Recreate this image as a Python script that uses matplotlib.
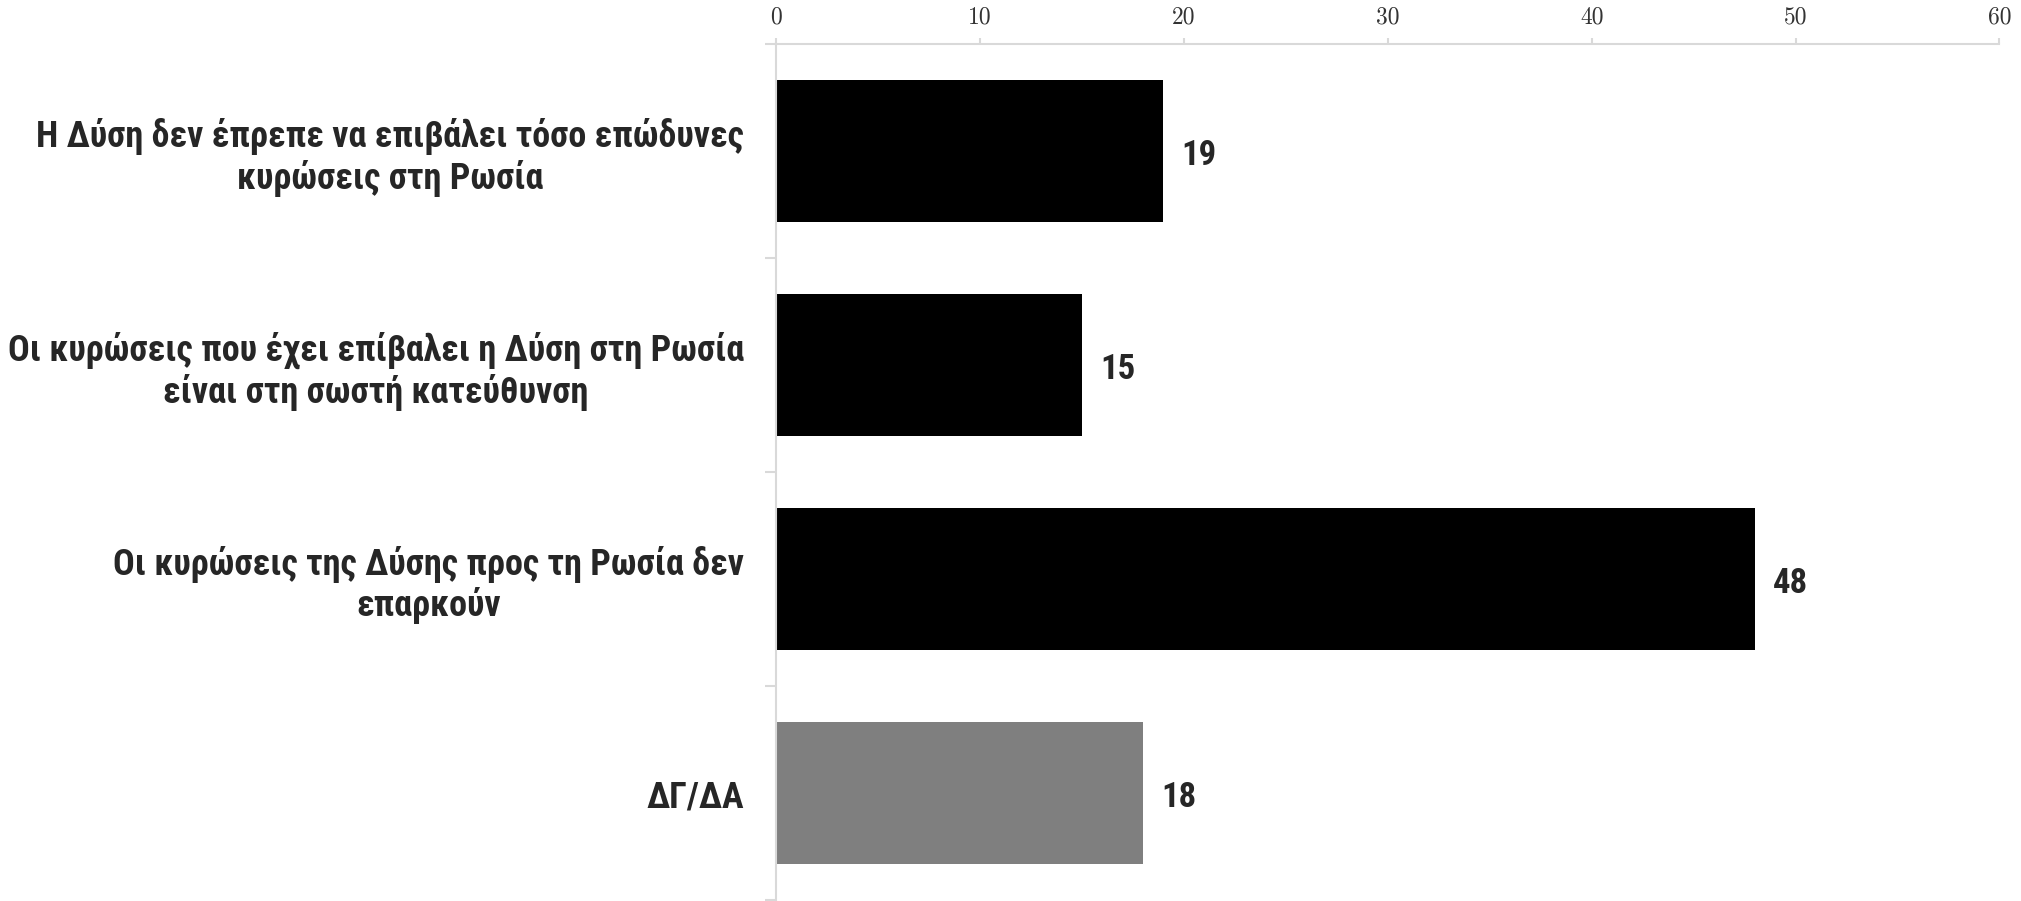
import numpy as np
import matplotlib
matplotlib.use("Agg")
import matplotlib.pyplot as plt
from matplotlib.ticker import FixedLocator

# data
categories = [
    "Η Δύση δεν έπρεπε να επιβάλει τόσο επώδυνες\nκυρώσεις στη Ρωσία",
    "Οι κυρώσεις που έχει επίβαλει η Δύση στη Ρωσία\nείναι στη σωστή κατεύθυνση",
    "Οι κυρώσεις της Δύσης προς τη Ρωσία δεν\nεπαρκούν",
    "ΔΓ/ΔΑ",
]
values = [19, 15, 48, 18]
bar_colors = ["#000000", "#000000", "#000000", "#7f7f7f"]
xticks = [0, 10, 20, 30, 40, 50, 60]

label_font = ["Roboto Condensed", "Liberation Sans", "DejaVu Sans"]
axis_gray = "#d9d9d9"
text_col = "#262626"

fig = plt.figure(figsize=(20.21, 9.01), dpi=100)
ax = fig.add_axes([776 / 2021, 1 / 901, (1999.5 - 776) / 2021, (900 - 44.3) / 901])

y = np.arange(len(categories))
ax.barh(y, values, height=0.664, color=bar_colors, zorder=2)

ax.set_xlim(0, 60)
ax.set_ylim(len(categories) - 0.5, -0.5)

# x axis on top, serif numbers
ax.xaxis.tick_top()
ax.set_xticks(xticks)
ax.set_xticklabels([str(t) for t in xticks], fontfamily="cmr10", fontsize=17, color="#333333")
ax.tick_params(axis="x", which="major", length=4.5, width=1.5, color=axis_gray, pad=7)

# categories as labels, boundaries as minor ticks
ax.set_yticks(y)
ax.set_yticklabels(categories, fontsize=26, fontweight="bold", color=text_col, family=label_font)
for lab in ax.get_yticklabels():
    lab.set_multialignment("center")
    lab.set_linespacing(1.15)
ax.yaxis.set_minor_locator(FixedLocator(np.arange(-0.5, len(categories), 1.0)))
ax.tick_params(axis="y", which="major", length=0, pad=23)
ax.tick_params(axis="y", which="minor", length=8, width=1.5, color=axis_gray)

for side in ["right", "bottom"]:
    ax.spines[side].set_visible(False)
for side in ["top", "left"]:
    ax.spines[side].set_color(axis_gray)
    ax.spines[side].set_linewidth(1.5)

# value labels
for yi, v in zip(y, values):
    ax.annotate(str(v), (v, yi), xytext=(13, -3), textcoords="offset points",
                va="center", ha="left", fontsize=25, fontweight="bold",
                color=text_col, family=label_font)

fig.savefig("out.png", dpi=100)
